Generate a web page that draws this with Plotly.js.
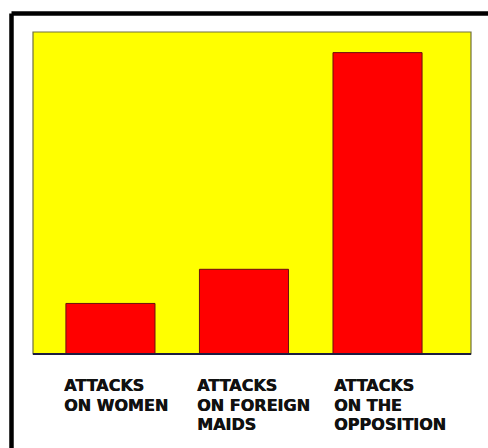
<!DOCTYPE html>
<html>
<head>
<meta charset="utf-8">
<script src="https://cdn.plot.ly/plotly-3.0.1.min.js"></script>
<style>
html,body{margin:0;padding:0;background:#fff;}
#chart{width:488px;height:448px;}
</style>
</head>
<body>
<div id="chart"></div>
<script>
const categories = ["ATTACKS<br>ON WOMEN", "ATTACKS<br>ON FOREIGN<br>MAIDS", "ATTACKS<br>ON THE<br>OPPOSITION"];
const values = [15.7, 26.3, 93.6];

const barWidth = 0.667;

const trace = {
  type: 'bar',
  x: [0, 1, 2],
  y: values,
  width: barWidth,
  marker: {color: '#ff0000', line: {color: '#6a1010', width: 1}},
  hoverinfo: 'skip'
};

const labelShift = [-4, -4, -1];
const annotations = [];
categories.forEach((c, i) => {
  c.split('<br>').forEach((line, j) => {
    annotations.push({
      x: i - barWidth / 2,
      xref: 'x',
      y: -0.0615 - j * 19.7 / 322,
      yref: 'paper',
      xanchor: 'left',
      yanchor: 'top',
      align: 'left',
      showarrow: false,
      text: line,
      xshift: labelShift[i],
      font: {family: 'DejaVu Sans', size: 16, color: '#111111', weight: 'bold',
             shadow: '0.5px 0 0 #111111'}
    });
  });
});

const layout = {
  width: 488,
  height: 448,
  margin: {l: 33, r: 17, t: 32, b: 94},
  paper_bgcolor: '#ffffff',
  plot_bgcolor: '#ffff00',
  showlegend: false,
  xaxis: {
    range: [-0.58, 2.70],
    showticklabels: false,
    showgrid: false,
    zeroline: false,
    ticks: '',
    fixedrange: true
  },
  yaxis: {
    range: [0, 100],
    showticklabels: false,
    showgrid: false,
    zeroline: false,
    ticks: '',
    fixedrange: true
  },
  shapes: [
    {type: 'rect', xref: 'paper', yref: 'paper', x0: 0, x1: 1, y0: 0, y1: 1,
     line: {color: '#707040', width: 1.2}, layer: 'above'},
    {type: 'line', xref: 'paper', yref: 'paper', x0: 0, x1: 1, y0: 0, y1: 0,
     line: {color: '#1c1c40', width: 2}, layer: 'above'},
    {type: 'line', xref: 'paper', yref: 'paper', x0: -0.0491, x1: 1.2, y0: 1.0575, y1: 1.0575,
     line: {color: '#000000', width: 4.5}},
    {type: 'line', xref: 'paper', yref: 'paper', x0: -0.0491, x1: -0.0491, y0: 1.0575, y1: -0.5,
     line: {color: '#000000', width: 4.5}}
  ],
  annotations: annotations
};

Plotly.newPlot('chart', [trace], layout, {displayModeBar: false, staticPlot: true});
</script>
</body>
</html>
